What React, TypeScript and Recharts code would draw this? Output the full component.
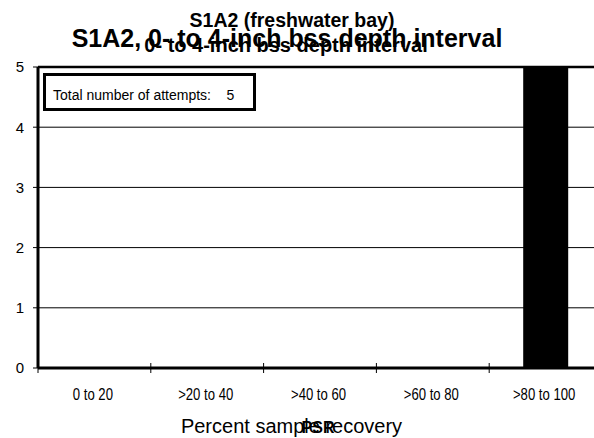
import React from 'react'
import { BarChart, Bar, XAxis, YAxis, CartesianGrid, ReferenceLine } from 'recharts'

const recoveryBins = ['0 to 20', '>20 to 40', '>40 to 60', '>60 to 80', '>80 to 100']
const attemptCounts = [0, 0, 0, 0, 5]
const countTicks = [0, 1, 2, 3, 4, 5]

const data = recoveryBins.map((bin, i) => ({ bin, count: attemptCounts[i] }))

const FONT = '"Liberation Sans", Arial, sans-serif'

// category labels, with the tick marks at the bin edges rather than the centres
function BinTick(props: any) {
  const { x, y, payload, index, visibleTicksCount } = props
  const half = payload.offset || 0
  const last = index === visibleTicksCount - 1
  return (
    <g>
      <line x1={x - half} x2={x - half} y1={y - 5} y2={y + 5} stroke="#000" strokeWidth={1} />
      {last && <line x1={x + half} x2={x + half} y1={y - 5} y2={y + 5} stroke="#000" strokeWidth={1} />}
      <text
        x={0}
        y={0}
        transform={`translate(${x - 1.5},${y + 32}) scale(0.82,1)`}
        textAnchor="middle"
        fontSize={16}
        fill="#000"
        fontFamily={FONT}
      >
        {payload.value}
      </text>
    </g>
  )
}

const centred = (cx: number): React.CSSProperties => ({
  position: 'absolute',
  left: cx,
  transform: 'translateX(-50%)',
  whiteSpace: 'nowrap',
  color: '#000',
})

export default function App() {
  return (
    <div
      style={{
        position: 'absolute',
        left: 0,
        top: 0,
        width: 594,
        height: 438,
        overflow: 'hidden',
        background: '#fff',
        fontFamily: FONT,
      }}
    >
      <BarChart width={602} height={438} data={data} margin={{ top: 67, right: 0, bottom: 0, left: 0 }}>
        <CartesianGrid horizontal vertical={false} stroke="#000" strokeWidth={1} />
        <XAxis
          dataKey="bin"
          height={70}
          tickLine={false}
          tickSize={0}
          tickMargin={0}
          axisLine={{ stroke: '#000', strokeWidth: 3 }}
          tick={<BinTick />}
          interval={0}
        />
        <YAxis
          width={38}
          domain={[0, 5]}
          ticks={countTicks}
          tickSize={5}
          tickMargin={9}
          tickLine={{ stroke: '#000' }}
          axisLine={{ stroke: '#000', strokeWidth: 3 }}
          tick={{ fontSize: 15, fill: '#000', fontFamily: FONT }}
        />
        <ReferenceLine y={5} stroke="#000" strokeWidth={2.5} />
        <Bar dataKey="count" fill="#000" barSize={45} isAnimationActive={false} />
      </BarChart>

      {/* titles overlap each other, as in the original export */}
      <div style={{ ...centred(292), top: 11, fontWeight: 'bold', fontSize: 19.5, lineHeight: '19.5px' }}>
        S1A2 (freshwater bay)
      </div>
      <div style={{ ...centred(287), top: 26, fontWeight: 'bold', fontSize: 25, lineHeight: '25px' }}>
        S1A2, 0- to 4-inch bss depth interval
      </div>
      <div style={{ ...centred(286), top: 35, fontWeight: 'bold', fontSize: 20, lineHeight: '20px' }}>
        0- to 4-inch bss depth interval
      </div>

      <div
        style={{
          position: 'absolute',
          left: 43,
          top: 73,
          width: 207 - 7,
          height: 32 - 12,
          paddingLeft: 7,
          paddingTop: 12,
          border: '3px solid #000',
          fontSize: 14,
          lineHeight: '14px',
          whiteSpace: 'nowrap',
          boxSizing: 'content-box',
        }}
      >
        Total number of attempts:{'\u00a0\u00a0\u00a0\u00a0'}5
      </div>

      <div style={{ ...centred(291.5), top: 416, fontSize: 20, lineHeight: '20px' }}>
        Percent sample recovery
      </div>
      <div style={{ ...centred(318), top: 419.5, fontSize: 16, fontWeight: 'bold', lineHeight: '16px' }}>
        PSR
      </div>
    </div>
  )
}
